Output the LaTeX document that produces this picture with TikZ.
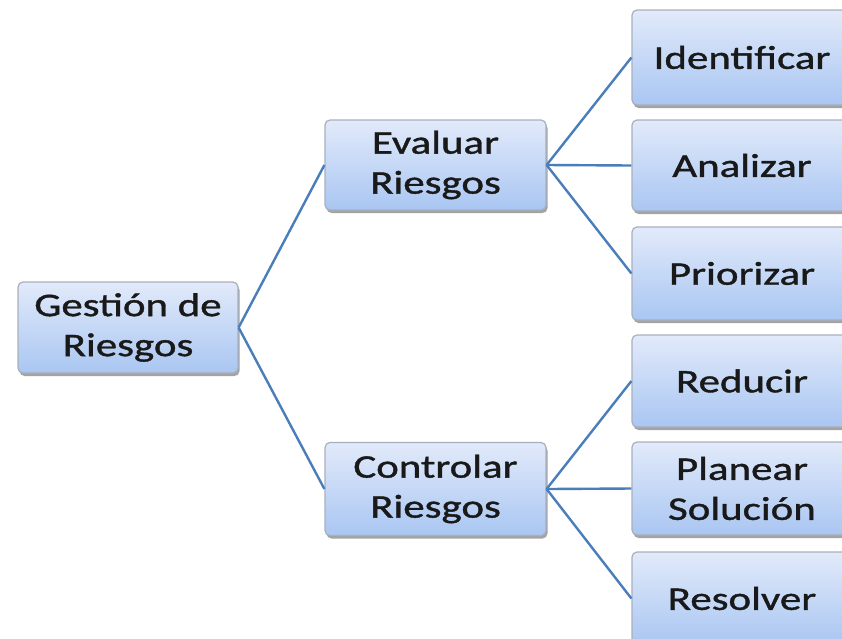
\documentclass[tikz,border=0pt]{standalone}
\usepackage{fontspec}
\setmainfont{Carlito}[FakeStretch=1.3, FakeBold=1.2]
\usetikzlibrary{shadows}
\definecolor{linkblue}{HTML}{4A7EBB}
\definecolor{boxtop}{HTML}{E2EAFA}
\definecolor{boxbot}{HTML}{A9C6F2}
\definecolor{boxedge}{HTML}{A8B0BE}
\tikzset{
  mbox/.style={rectangle, rounded corners=5pt, draw=boxedge, line width=1.2pt,
    top color=boxtop, bottom color=boxbot, align=center, text=black!90,
    font=\fontsize{33}{40}\selectfont, inner sep=0pt,
    drop shadow={shadow xshift=1.5pt, shadow yshift=-3pt, fill=black!45, opacity=0.8}},
  link/.style={draw=linkblue, line width=2.4pt}
}
\begin{document}
\begin{tikzpicture}[x=1pt,y=-1pt]
\useasboundingbox (0,0) rectangle (842,638);
\clip (0,0) rectangle (842,638);
\fill[white] (0,0) rectangle (842,638);
\node[mbox, minimum width=220pt, minimum height=91pt] (gest) at (128,327.5) {Gestión de\\Riesgos};
\node[mbox, minimum width=221pt, minimum height=90pt] (eval) at (435.5,165) {Evaluar\\Riesgos};
\node[mbox, minimum width=221pt, minimum height=93pt] (ctrl) at (435.5,489) {Controlar\\Riesgos};
\node[mbox, minimum width=220pt, minimum height=95pt] (iden) at (742,57.5) {Identificar};
\node[mbox, minimum width=220pt, minimum height=91pt] (anal) at (742,165.5) {Analizar};
\node[mbox, minimum width=220pt, minimum height=93pt] (prio) at (742,273.5) {Priorizar};
\node[mbox, minimum width=220pt, minimum height=92pt] (redu) at (742,381) {Reducir};
\node[mbox, minimum width=220pt, minimum height=93pt] (plan) at (742,488.5) {Planear\\Solución};
\node[mbox, minimum width=220pt, minimum height=93pt] (reso) at (742,598.5) {Resolver};
\draw[link] (gest.east) -- (eval.west);
\draw[link] (gest.east) -- (ctrl.west);
\draw[link] (eval.east) -- (iden.west);
\draw[link] (eval.east) -- (anal.west);
\draw[link] (eval.east) -- (prio.west);
\draw[link] (ctrl.east) -- (redu.west);
\draw[link] (ctrl.east) -- (plan.west);
\draw[link] (ctrl.east) -- (reso.west);
\end{tikzpicture}
\end{document}
